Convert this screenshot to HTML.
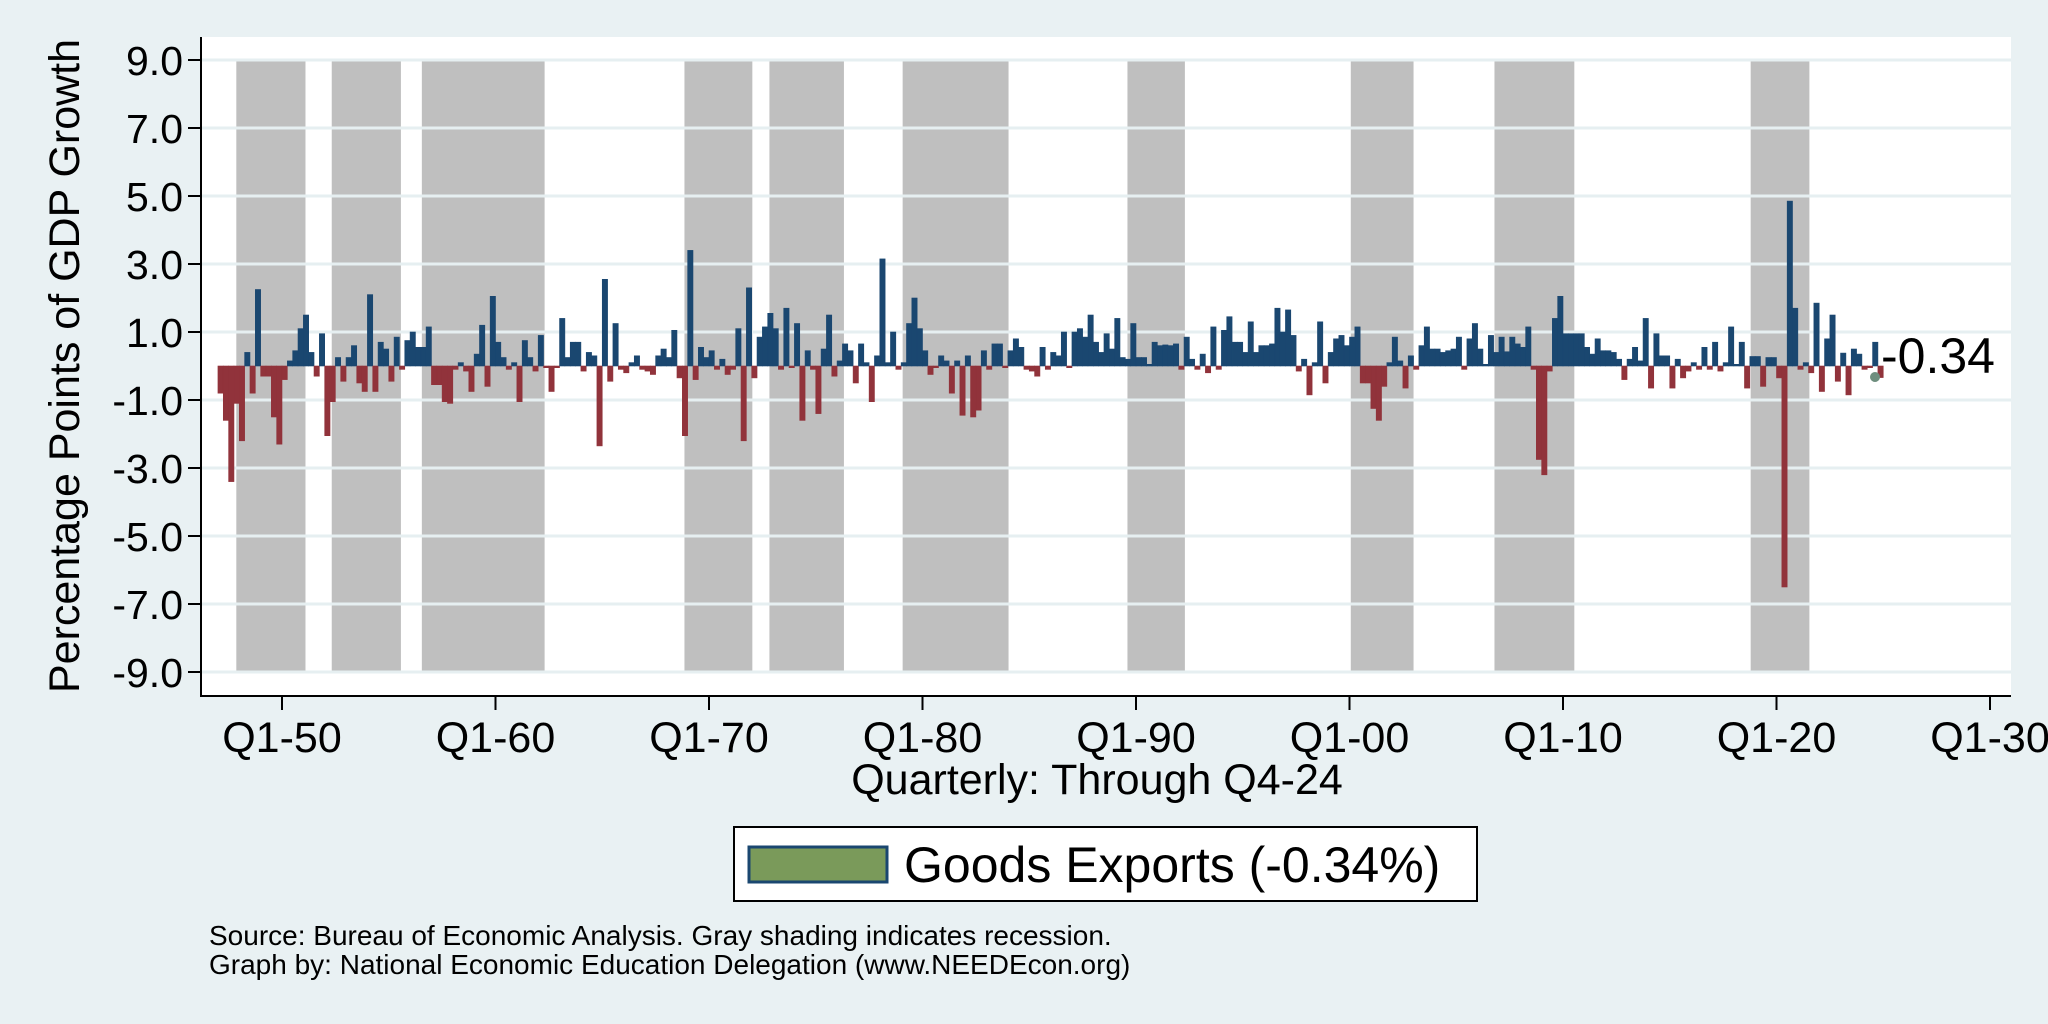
<!DOCTYPE html>
<html><head><meta charset="utf-8"><style>
html,body{margin:0;padding:0;background:#e9f1f3;}
svg{display:block;font-family:"Liberation Sans",Arial,sans-serif;}
</style></head><body>
<svg id="chart" width="2048" height="1024" viewBox="0 0 2048 1024" xmlns="http://www.w3.org/2000/svg">
<rect x="0" y="0" width="2048" height="1024" fill="#e9f1f3"/>
<rect x="201" y="37" width="1810" height="659" fill="#ffffff"/>
<g id="recessions"></g>
<g id="grid"></g>
<g id="bars"></g>
<g id="axes"></g>
<text x="79" y="366" font-size="43" text-anchor="middle" transform="rotate(-90 79 366)">Percentage Points of GDP Growth</text>
<text x="1097" y="794" font-size="43" text-anchor="middle">Quarterly: Through Q4-24</text>
<text x="1881" y="373" font-size="50">-0.34</text>
<circle cx="1875" cy="377" r="5" fill="#6e8e7e"/>
<g>
<rect x="734" y="827" width="743" height="74" fill="#ffffff" stroke="#000" stroke-width="2"/>
<rect x="749" y="847" width="138" height="35" fill="#7a9a5a" stroke="#1a4770" stroke-width="3"/>
<text x="904" y="882" font-size="50">Goods Exports (-0.34%)</text>
</g>
<text x="209" y="945" font-size="28">Source: Bureau of Economic Analysis. Gray shading indicates recession.</text>
<text x="209" y="974" font-size="28">Graph by: National Economic Education Delegation (www.NEEDEcon.org)</text>
</svg>
<script>
const startYear = 1947;
const values = [
-0.8,-1.6,-3.4,-1.1,-2.2,0.4,-0.8,2.25,-0.3,-0.3,-1.5,-2.3,-0.4,0.15,0.45,1.1,1.5,0.4,-0.3,0.95,
-2.05,-1.05,0.25,-0.45,0.25,0.6,-0.5,-0.75,2.1,-0.75,0.7,0.5,-0.45,0.85,-0.1,0.75,1.0,0.55,0.55,1.15,
-0.55,-0.55,-1.05,-1.1,-0.1,0.1,-0.15,-0.75,0.35,1.2,-0.6,2.05,0.7,0.25,-0.1,0.1,-1.05,0.75,0.25,-0.15,
0.9,-0.05,-0.75,-0.05,1.4,0.25,0.7,0.7,-0.15,0.4,0.3,-2.35,2.55,-0.45,1.25,-0.1,-0.2,0.1,0.3,-0.1,
-0.15,-0.25,0.3,0.5,0.25,1.05,-0.35,-2.05,3.4,-0.4,0.55,0.25,0.45,-0.1,0.2,-0.25,-0.1,1.1,-2.2,2.3,
-0.35,0.85,1.15,1.55,1.1,-0.1,1.7,-0.05,1.25,-1.6,0.45,-0.1,-1.4,0.5,1.5,-0.3,0.15,0.65,0.45,-0.5,
0.65,0.1,-1.05,0.3,3.15,0.1,1.0,-0.1,0.1,1.25,2.0,1.1,0.45,-0.25,-0.05,0.3,0.15,-0.8,0.15,-1.45,
0.3,-1.5,-1.3,0.45,-0.1,0.65,0.65,-0.05,0.45,0.8,0.55,-0.1,-0.15,-0.3,0.55,-0.1,0.4,0.3,1.0,-0.05,1.0,
1.1,0.85,1.5,0.7,0.4,0.95,0.5,1.4,0.25,0.2,1.25,0.25,0.25,0.05,0.7,0.6,0.62,0.6,0.65,-0.1,
0.85,0.2,-0.1,0.35,-0.2,1.15,-0.1,1.05,1.45,0.7,0.7,0.4,1.3,0.4,0.6,0.6,0.65,1.7,1.0,1.65,
0.9,-0.15,0.2,-0.85,0.1,1.3,-0.5,0.4,0.8,0.9,0.6,0.85,1.15,-0.5,-0.5,-1.25,-1.6,-0.6,0.1,0.85,
0.15,-0.65,0.3,-0.1,0.6,1.15,0.5,0.5,0.4,0.45,0.5,0.85,-0.1,0.8,1.25,0.5,0.05,0.9,0.4,0.85,
0.42,
0.85,0.65,0.55,1.15,-0.1,-2.75,-3.2,-0.15,1.4,2.05,0.95,0.95,0.95,0.95,0.55,0.35,0.8,0.45,0.45,0.4,
0.2,-0.4,0.2,0.55,0.15,1.4,-0.65,0.95,0.3,0.3,-0.65,0.2,-0.35,-0.15,0.1,-0.1,0.55,-0.1,0.7,-0.15,
0.1,1.15,0.05,0.7,-0.65,0.28,0.28,-0.6,0.25,0.25,-0.35,-6.5,4.85,1.7,-0.1,0.1,-0.2,1.85,-0.75,0.8,
1.5,-0.45,0.38,-0.85,0.5,0.35,-0.1,-0.05,0.7,-0.34
];
const recessionStarts = [1947.86,1952.33,1956.55,1968.85,1972.83,1979.07,1989.6,2000.06,2006.79,2018.79];
const recessionEnds = [1951.1,1955.57,1962.3,1972.03,1976.32,1984.03,1992.29,2003.0,2010.53,2021.54];
const yTicks = [9,7,5,3,1,-1,-3,-5,-7,-9];
const xTickYears = [1950,1960,1970,1980,1990,2000,2010,2020,2030];
const xTickLabels = ["Q1-50","Q1-60","Q1-70","Q1-80","Q1-90","Q1-00","Q1-10","Q1-20","Q1-30"];

const NS = "http://www.w3.org/2000/svg";
function xs(t){ return 282 + (t - 1950) * 21.35; }
function ys(v){ return 366 - v * 34; }
function mk(tag, attrs, parent){
  const e = document.createElementNS(NS, tag);
  for (const k in attrs) e.setAttribute(k, attrs[k]);
  parent.appendChild(e);
  return e;
}
const gR = document.getElementById('recessions');
for (let i = 0; i < recessionStarts.length; i++) {
  const r = mk('rect', {x: xs(recessionStarts[i]), y: ys(9), width: xs(recessionEnds[i]) - xs(recessionStarts[i]), height: ys(-9) - ys(9), fill: '#bfbfbf'}, gR);
  
  
}
const gG = document.getElementById('grid');
const gA = document.getElementById('axes');
yTicks.forEach(v => {
  const l = mk('line', {x1: 201, x2: 2011, y1: ys(v), y2: ys(v), stroke: '#e6eff1', 'stroke-width': 3}, gG);
  
  
  const tk = mk('line', {x1: 188, x2: 201, y1: ys(v), y2: ys(v), stroke: '#000', 'stroke-width': 2}, gA);
  
  
  const t = mk('text', {x: 183, y: ys(v) + 15, 'font-size': 41, 'text-anchor': 'end'}, gA);
  t.textContent = v.toFixed(1);
  
  
});
const gB = document.getElementById('bars');
const bw = 21.35 / 4;
values.forEach((v, i) => {
  const t = startYear + i / 4;
  const y0 = ys(0), y1 = ys(v);
  const c = v >= 0 ? '#1a4770' : '#91333b';
  const b = mk('rect', {x: xs(t), y: Math.min(y0, y1), width: bw, height: Math.max(Math.abs(y1 - y0), 0.5), fill: c, stroke: c, 'stroke-width': 0.6}, gB);
  
  
});
const ax = mk('line', {x1: 201, x2: 2011, y1: 696, y2: 696, stroke: '#000', 'stroke-width': 2}, gA);


const ay = mk('line', {x1: 201, x2: 201, y1: 37, y2: 697, stroke: '#000', 'stroke-width': 2}, gA);


xTickYears.forEach((yr, i) => {
  const tk = mk('line', {x1: xs(yr), x2: xs(yr), y1: 696, y2: 710, stroke: '#000', 'stroke-width': 2}, gA);
  
  
  const t = mk('text', {x: xs(yr), y: 752, 'font-size': 43, 'text-anchor': 'middle'}, gA);
  t.textContent = xTickLabels[i];
  
  
});
</script>
</body></html>
